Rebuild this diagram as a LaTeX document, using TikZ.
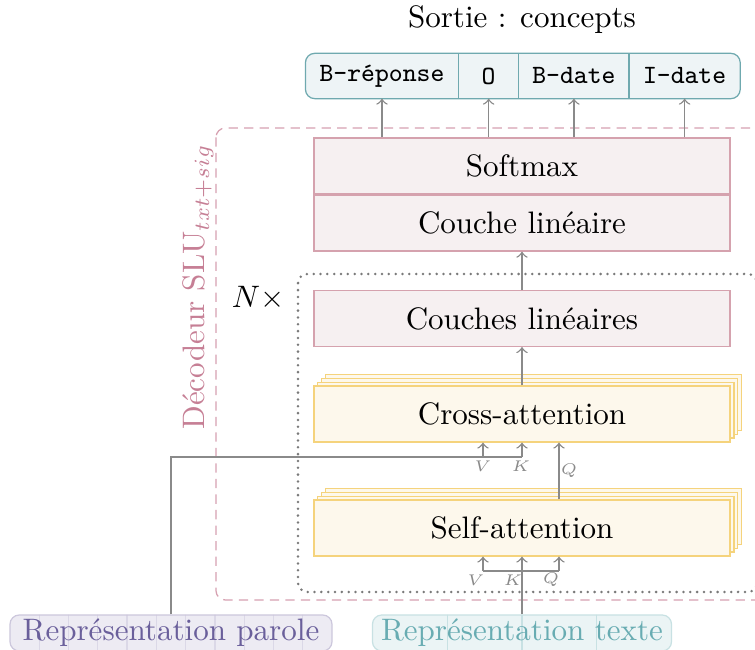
\documentclass[tikz,border=0pt]{standalone}
\usepackage{tikz}
\usetikzlibrary{positioning}
\usetikzlibrary{calc}
\usetikzlibrary{shadows}
\usetikzlibrary{backgrounds}

\definecolor{linfill}{HTML}{F6F0F1}
\definecolor{lindraw}{HTML}{D5A2AE}
\definecolor{attfill}{HTML}{FDF8EC}
\definecolor{attdraw}{HTML}{F5D37C}
\definecolor{tagfill}{HTML}{EEF4F6}
\definecolor{tagdraw}{HTML}{6FA9AF}
\definecolor{decpink}{HTML}{C67F95}
\definecolor{decdash}{HTML}{D6A0B0}
\definecolor{parfill}{HTML}{EDEBF3}
\definecolor{pardraw}{HTML}{CCC7DC}
\definecolor{partext}{HTML}{6A5F9B}
\definecolor{txtfill}{HTML}{EBF4F5}
\definecolor{txtdraw}{HTML}{C8E1E3}
\definecolor{txttext}{HTML}{68ACB2}
\definecolor{flow}{HTML}{8A8A8A}
\definecolor{flowdot}{HTML}{7A7A7A}

\tikzset{
  layer/.style={draw=lindraw, fill=linfill, minimum width=134pt, minimum height=18pt, inner sep=0pt},
  attn/.style={draw=attdraw, fill=attfill, minimum width=134pt, minimum height=18pt, inner sep=0pt,
    general shadow={draw=attdraw, fill=attfill, shadow xshift=3.75pt, shadow yshift=3.75pt},
    general shadow={draw=attdraw, fill=attfill, shadow xshift=2.5pt, shadow yshift=2.5pt},
    general shadow={draw=attdraw, fill=attfill, shadow xshift=1.25pt, shadow yshift=1.25pt}},
  tag/.style={minimum height=14.2pt, inner sep=0pt, font=\fontsize{8.5}{10}\selectfont\ttfamily},
  flowline/.style={draw=flow, line width=0.45pt},
  flowarrow/.style={flowline, ->},
  qkv/.style={text=flow, font=\tiny, inner sep=0pt},
  inrep/.style={rounded corners=3pt, minimum height=11.6pt, inner sep=0pt},
}

\begin{document}
\begin{tikzpicture}[x=0.322pt, y=-0.322pt]
  \useasboundingbox (0,0) rectangle (755,650);

  % cadres
  \draw[decdash, dash pattern=on 3pt off 2pt, rounded corners=3pt] (216,128) rectangle (775,600);
  \draw[flowdot, line width=0.9pt, line cap=round, dash pattern=on 0pt off 2.2pt, rounded corners=3pt] (298,274) rectangle (757,592);

  \node (sortie) at (522,20) {Sortie : concepts};

  \node[tag, minimum width=48.9pt] (breponse) at (382,76) {B-réponse};
  \node[tag, minimum width=19pt, right=0pt of breponse] (o) {O};
  \node[tag, minimum width=35.1pt, right=0pt of o] (bdate) {B-date};
  \node[tag, minimum width=35.4pt, right=0pt of bdate] (idate) {I-date};
  \begin{scope}[on background layer]
    \draw[draw=tagdraw, fill=tagfill, rounded corners=3pt] (breponse.north west) rectangle (idate.south east);
  \end{scope}
  \foreach \cell in {breponse,o,bdate}
    \draw[tagdraw] (\cell.north east) -- (\cell.south east);

  \node[layer] (softmax) at (522,166) {Softmax};
  \node[layer, below=0pt of softmax] (lin) {Couche linéaire};
  \node[layer] (couches) at (522,318.5) {Couches linéaires};
  \node[attn] (cross) at (522,414) {Cross-attention};
  \node[attn] (self) at (522,528) {Self-attention};

  \node (nfois) at (258,298) {$N\times$};
  \node[text=decpink, rotate=90] (decodeur) at (198,287) {Décodeur SLU$_{txt+sig}$};

  \node[inrep, fill=parfill, draw=pardraw, text=partext, minimum width=103.7pt,
    path picture={\foreach \i in {1,...,10}
      \draw[pardraw!70] ($(path picture bounding box.south west)!{\i/11}!(path picture bounding box.south east)$) -- ++(0,20pt);}]
    (parole) at (171,633) {Représentation parole};
  \node[inrep, fill=txtfill, draw=txtdraw, text=txttext, minimum width=96.3pt,
    path picture={\foreach \i in {1,...,3}
      \draw[txtdraw] ($(path picture bounding box.south west)!{\i/4}!(path picture bounding box.south east)$) -- ++(0,20pt);}]
    (texte) at (522,633) {Représentation texte};

  \foreach \cell in {breponse,o,bdate,idate}
    \draw[flowarrow] (softmax.north -| \cell.south) -- (\cell.south);
  \draw[flowarrow] (couches) -- (lin);
  \draw[flowarrow] (cross) -- (couches);

  \coordinate (crossv) at (483,457);
  \coordinate (crossk) at (522,457);
  \coordinate (crossq) at (559,457);
  \draw[flowline] (parole.north) |- (crossk);
  \draw[flowarrow] (crossv) -- (crossv |- cross.south);
  \draw[flowarrow] (crossk) -- (crossk |- cross.south);
  \draw[flowarrow] (self.north -| crossq) -- (cross.south -| crossq);
  \node[qkv] (crossvlab) at (483,466) {$V$};
  \node[qkv] (crossklab) at (521,466) {$K$};
  \node[qkv] (crossqlab) at (569,471) {$Q$};

  \coordinate (selfv) at (483,571);
  \coordinate (selfq) at (559,571);
  \draw[flowline] (selfv) -- (selfq);
  \draw[flowarrow] (selfv) -- (selfv |- self.south);
  \draw[flowarrow] (texte.north) -- (self.south);
  \draw[flowarrow] (selfq) -- (selfq |- self.south);
  \node[qkv] (selfvlab) at (476,580) {$V$};
  \node[qkv] (selfklab) at (513,580) {$K$};
  \node[qkv] (selfqlab) at (551,580) {$Q$};
\end{tikzpicture}
\end{document}
